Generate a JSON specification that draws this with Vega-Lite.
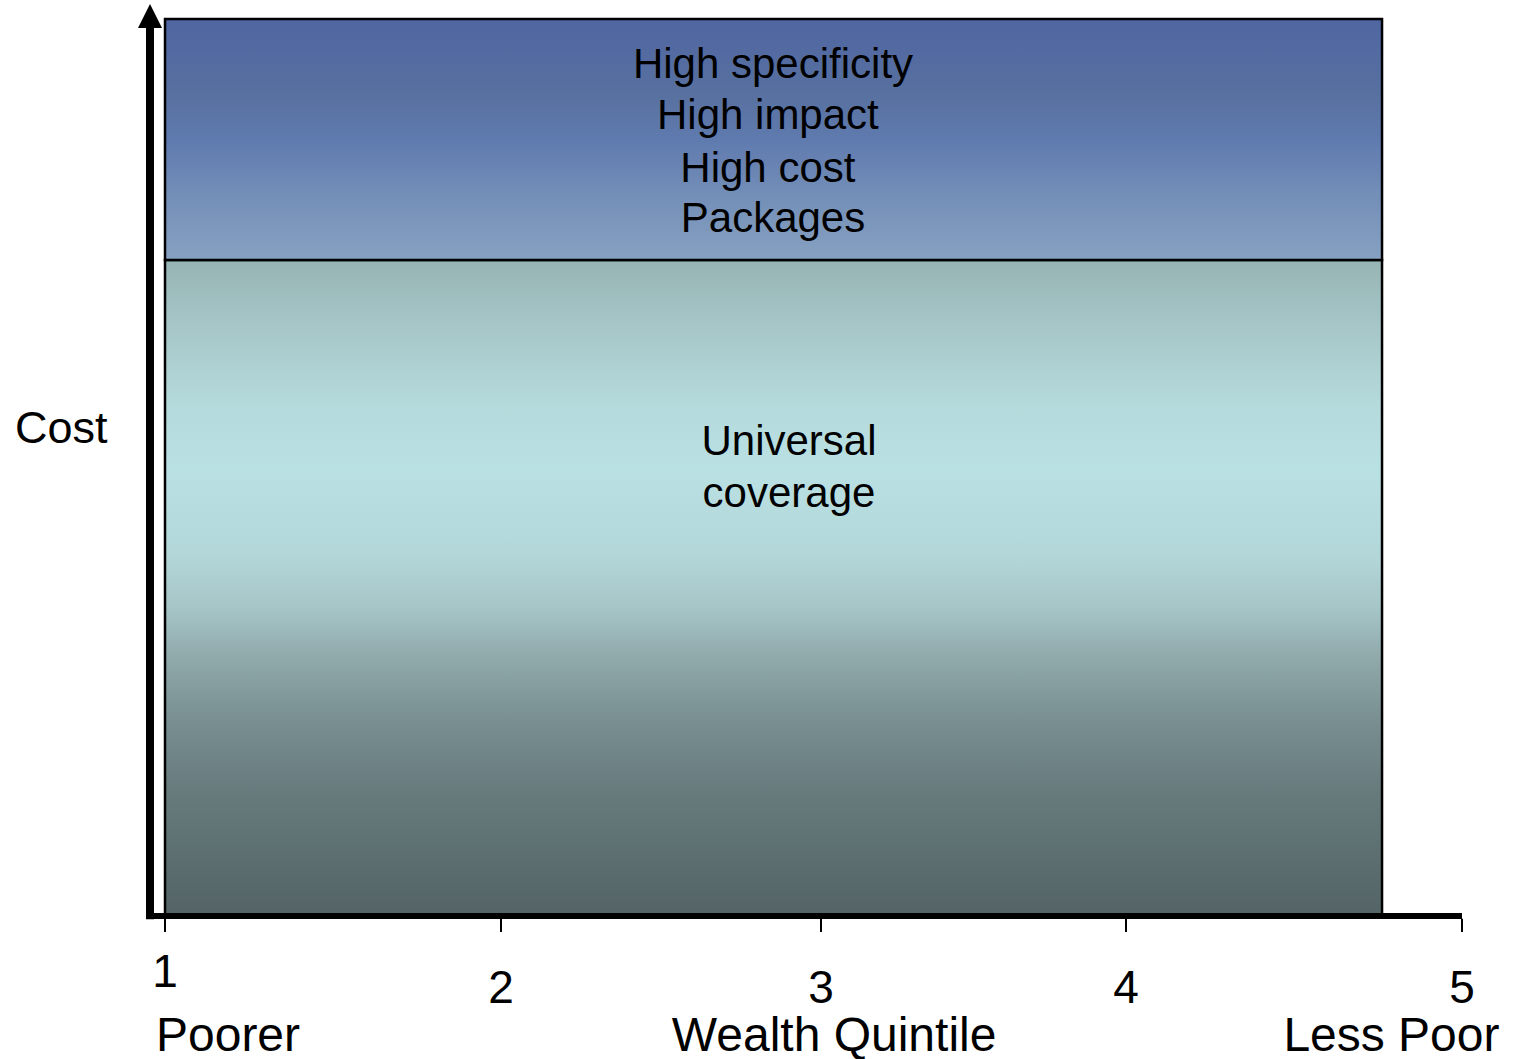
{
  "$schema": "https://vega.github.io/schema/vega-lite/v6.json",
  "width": 1312,
  "height": 911,
  "autosize": "none",
  "padding": {"left": 150, "top": 5, "right": 51, "bottom": 143},
  "background": "white",
  "config": {"view": {"stroke": null}, "font": "Liberation Sans"},
  "encoding": {
    "x": {"field": "x", "type": "quantitative", "axis": null,
          "scale": {"domain": [0.9537, 1, 2, 3, 4, 5], "range": [0, 15, 351, 671, 976, 1312], "nice": false, "zero": false}},
    "y": {"field": "y", "type": "quantitative", "axis": null,
          "scale": {"domain": [0, 100], "nice": false, "zero": false}}
  },
  "layer": [
    {
      "data": {"values": [{"band": "Universal coverage", "x": 1, "x2": 4.762, "y": 0, "y2": 72}]},
      "mark": {"type": "rect", "stroke": "black", "strokeWidth": 2.5,
        "fill": {"gradient": "linear", "x1": 0, "y1": 0, "x2": 0, "y2": 1,
          "stops": [
            {"offset": 0, "color": "#97b4b4"},
            {"offset": 0.1, "color": "#a6c6c7"},
            {"offset": 0.22, "color": "#b5dadc"},
            {"offset": 0.32, "color": "#b9e0e3"},
            {"offset": 0.45, "color": "#b3d7d9"},
            {"offset": 0.53, "color": "#a6c5c7"},
            {"offset": 0.61, "color": "#8fa8aa"},
            {"offset": 0.71, "color": "#778d8f"},
            {"offset": 0.81, "color": "#677b7d"},
            {"offset": 0.91, "color": "#5c6e70"},
            {"offset": 1, "color": "#546466"}
          ]}},
      "encoding": {"x2": {"field": "x2"}, "y2": {"field": "y2"}}
    },
    {
      "data": {"values": [{"band": "Packages", "x": 1, "x2": 4.762, "y": 72, "y2": 98.46}]},
      "mark": {"type": "rect", "stroke": "black", "strokeWidth": 2.5,
        "fill": {"gradient": "linear", "x1": 0, "y1": 0, "x2": 0, "y2": 1,
          "stops": [
            {"offset": 0, "color": "#4f66a2"},
            {"offset": 0.3, "color": "#57709f"},
            {"offset": 0.5, "color": "#5f7aae"},
            {"offset": 0.75, "color": "#7590b8"},
            {"offset": 1, "color": "#87a1c2"}
          ]}},
      "encoding": {"x2": {"field": "x2"}, "y2": {"field": "y2"}}
    },
    {
      "data": {"values": [{"x": 0.9475, "x2": 5, "y": 0}]},
      "mark": {"type": "rule", "color": "black", "strokeWidth": 6},
      "encoding": {"x2": {"field": "x2"}}
    },
    {
      "data": {"values": [{"x": 0.9537, "y": -0.35, "y2": 97.6}]},
      "mark": {"type": "rule", "color": "black", "strokeWidth": 8},
      "encoding": {"y2": {"field": "y2"}}
    },
    {
      "data": {"values": [
        {"x": 1, "y": -0.3, "y2": -1.75},
        {"x": 2, "y": -0.3, "y2": -1.75},
        {"x": 3, "y": -0.3, "y2": -1.75},
        {"x": 4, "y": -0.3, "y2": -1.75},
        {"x": 5, "y": -0.3, "y2": -1.75}
      ]},
      "mark": {"type": "rule", "color": "black", "strokeWidth": 2},
      "encoding": {"y2": {"field": "y2"}}
    },
    {
      "data": {"values": [{"x": 0.9537, "y": 98.8}]},
      "mark": {"type": "point", "shape": "M-1,1L0,-1L1,1Z", "size": 576, "filled": true, "color": "black", "opacity": 1, "strokeWidth": 0}
    },
    {
      "data": {"values": [
        {"label": "1", "x": 1, "y": -7.79},
        {"label": "2", "x": 2, "y": -9.55},
        {"label": "3", "x": 3, "y": -9.55},
        {"label": "4", "x": 4, "y": -9.55},
        {"label": "5", "x": 5, "y": -9.55}
      ]},
      "mark": {"type": "text", "fontSize": 46, "align": "center", "baseline": "alphabetic", "color": "black"},
      "encoding": {"text": {"field": "label"}}
    },
    {
      "data": {"values": [
        {"label": "Poorer", "x": 1.1875, "y": -14.85},
        {"label": "Wealth Quintile", "x": 3.043, "y": -14.85},
        {"label": "Less Poor", "x": 4.79, "y": -14.85}
      ]},
      "mark": {"type": "text", "fontSize": 48, "align": "center", "baseline": "alphabetic", "color": "black"},
      "encoding": {"text": {"field": "label"}}
    },
    {
      "data": {"values": [{"label": "Cost", "x": 0.537, "y": 51.92}]},
      "mark": {"type": "text", "fontSize": 45, "align": "left", "baseline": "alphabetic", "color": "black"},
      "encoding": {"text": {"field": "label"}}
    },
    {
      "data": {"values": [
        {"label": "High specificity", "x": 2.85, "y": 91.99},
        {"label": "High impact", "x": 2.834, "y": 86.39},
        {"label": "High cost", "x": 2.834, "y": 80.57},
        {"label": "Packages", "x": 2.85, "y": 75.08},
        {"label": "Universal", "x": 2.9, "y": 50.6},
        {"label": "coverage", "x": 2.9, "y": 44.9}
      ]},
      "mark": {"type": "text", "fontSize": 42, "align": "center", "baseline": "alphabetic", "color": "black"},
      "encoding": {"text": {"field": "label"}}
    }
  ]
}
